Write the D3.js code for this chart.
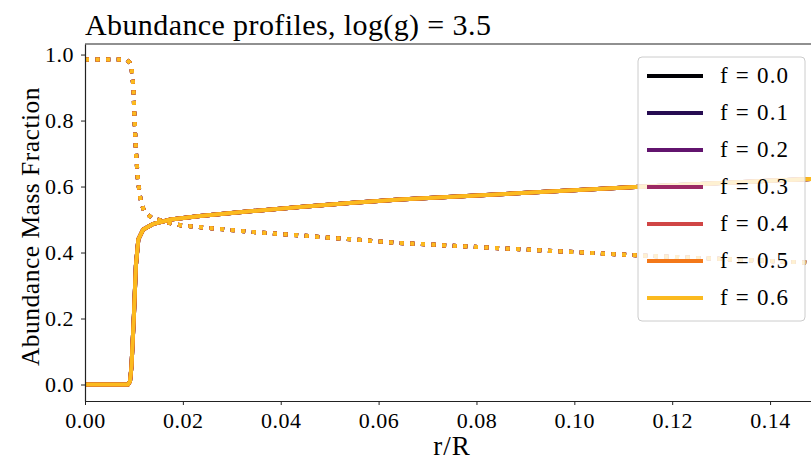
<!DOCTYPE html>
<html>
<head>
<meta charset="utf-8">
<script src="https://cdn.jsdelivr.net/npm/d3@7"></script>
<style>
  html, body { margin: 0; padding: 0; background: #fff; }
  svg { display: block; }
  text { font-family: "Liberation Serif", "DejaVu Serif", serif; fill: #000; }
</style>
</head>
<body>
<svg id="chart" width="811" height="461"></svg>
<script>
// Overshoot parameters and their legend labels
const fValues = [0.0, 0.1, 0.2, 0.3, 0.4, 0.5, 0.6];
const fLabels = ["f = 0.0", "f = 0.1", "f = 0.2", "f = 0.3", "f = 0.4", "f = 0.5", "f = 0.6"];

// Radius coordinate r/R and abundances (solid: rising species, dotted: falling species)
const solidR = [0, 0.0088, 0.0092, 0.0095, 0.0100, 0.0104, 0.0109, 0.0119, 0.0140, 0.0175,
                0.0235, 0.0337, 0.0439, 0.0541, 0.0643, 0.080, 0.095, 0.1134, 0.130, 0.1483, 0.150];
const solidX = [0, 0, 0.01, 0.055, 0.21, 0.36, 0.44, 0.47, 0.487, 0.500,
                0.511, 0.525, 0.538, 0.550, 0.561, 0.573, 0.585, 0.599, 0.611, 0.623, 0.624];

const dottedR = [0, 0.0085, 0.0092, 0.0095, 0.0099, 0.0101, 0.0104, 0.0108, 0.0114, 0.0121,
                 0.0136, 0.0177, 0.0198, 0.0337, 0.0473, 0.0643, 0.1134, 0.1483, 0.150];
const dottedX = [0.985, 0.985, 0.975, 0.96, 0.90, 0.81, 0.71, 0.62, 0.555, 0.525,
                 0.505, 0.488, 0.482, 0.463, 0.448, 0.429, 0.391, 0.369, 0.368];

const xTicks = [0, 0.02, 0.04, 0.06, 0.08, 0.10, 0.12, 0.14];
const yTicks = [0, 0.2, 0.4, 0.6, 0.8, 1.0];

const titleText = "Abundance profiles, log(g) = 3.5";
const xLabel = "r/R";
const yLabel = "Abundance Mass Fraction";

const svg = d3.select("#chart");
const plot = { left: 85, right: 819, top: 44, bottom: 401 };

const x = d3.scaleLinear().domain([0, 0.15]).range([plot.left, plot.right]);
const y = d3.scaleLinear().domain([-0.05, 1.032]).range([plot.bottom, plot.top]);

// inferno colours sampled along the lower part of the map
const color = i => d3.interpolateInferno(i * 0.14);

svg.append("defs").append("clipPath").attr("id", "clip")
  .append("rect").attr("x", plot.left).attr("y", plot.top)
  .attr("width", plot.right - plot.left).attr("height", plot.bottom - plot.top);

const lineGen = d3.line().x(d => x(d[0])).y(d => y(d[1]));
const solidData = d3.zip(solidR, solidX);
const dottedData = d3.zip(dottedR, dottedX);

const lines = svg.append("g").attr("clip-path", "url(#clip)");
fValues.forEach((f, i) => {
  lines.append("path").datum(dottedData)
    .attr("d", lineGen).attr("fill", "none")
    .attr("stroke", color(i)).attr("stroke-width", 4)
    .attr("stroke-dasharray", "4,6.6");
  lines.append("path").datum(solidData)
    .attr("d", lineGen).attr("fill", "none")
    .attr("stroke", color(i)).attr("stroke-width", 4)
    .attr("stroke-linejoin", "round");
});

// Axes
const xAxis = svg.append("g").attr("transform", `translate(0,${plot.bottom})`)
  .call(d3.axisBottom(x).tickValues(xTicks).tickFormat(d3.format(".2f")).tickSizeInner(4).tickSizeOuter(0));
const yAxis = svg.append("g").attr("transform", `translate(${plot.left},0)`)
  .call(d3.axisLeft(y).tickValues(yTicks).tickFormat(d3.format(".1f")).tickSizeInner(4).tickSizeOuter(0));
[xAxis, yAxis].forEach(a => {
  a.select(".domain").attr("stroke", "#222").attr("stroke-width", 1.2);
  a.selectAll(".tick line").attr("stroke", "#222").attr("stroke-width", 1);
  a.selectAll(".tick text").style("font-size", "22px").style("letter-spacing", "0.5px")
    .style("font-family", "'Liberation Serif', serif");
});
xAxis.selectAll(".tick text").attr("dy", null).attr("y", 27);
yAxis.selectAll(".tick text").attr("x", -11).attr("dy", "0.33em");

// top spine
svg.append("line").attr("x1", plot.left).attr("x2", plot.right)
  .attr("y1", plot.top).attr("y2", plot.top)
  .attr("stroke", "#222").attr("stroke-width", 1.2);

// Title and axis labels
svg.append("text").attr("x", plot.left).attr("y", 35)
  .style("font-size", "30px").style("letter-spacing", "0.4px").text(titleText);
svg.append("text").attr("x", (plot.left + plot.right) / 2).attr("y", 455)
  .attr("text-anchor", "middle").style("font-size", "27px").style("letter-spacing", "1px").text(xLabel);
svg.append("text")
  .attr("transform", `translate(39,${(plot.top + plot.bottom) / 2 + 4}) rotate(-90)`)
  .attr("text-anchor", "middle").style("font-size", "25.5px").style("letter-spacing", "0.5px").text(yLabel);

// Legend
const legend = svg.append("g").attr("transform", "translate(638,57)");
legend.append("rect").attr("width", 167).attr("height", 264)
  .attr("rx", 4).attr("ry", 4)
  .attr("fill", "rgba(255,255,255,0.8)").attr("stroke", "#cccccc").attr("stroke-width", 1);
fLabels.forEach((lab, i) => {
  const cy = 19 + i * 37;
  legend.append("line").attr("x1", 9).attr("x2", 65).attr("y1", cy).attr("y2", cy)
    .attr("stroke", color(i)).attr("stroke-width", 4);
  legend.append("text").attr("x", 82).attr("y", cy + 7)
    .style("font-size", "23px").style("letter-spacing", "1.2px").text(lab);
});
</script>
</body>
</html>
